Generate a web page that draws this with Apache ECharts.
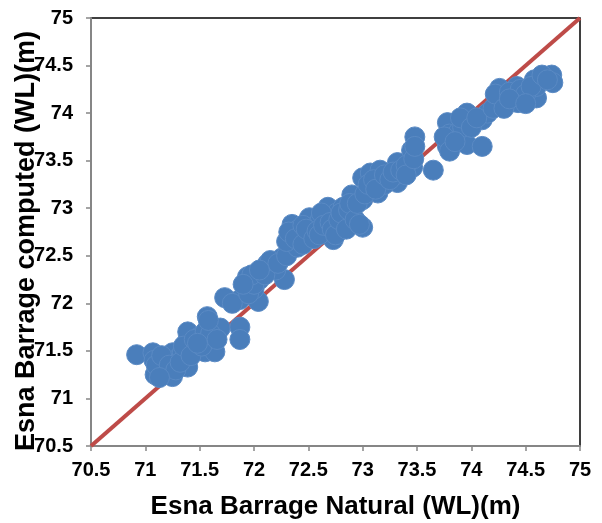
<!DOCTYPE html>
<html>
<head>
<meta charset="utf-8">
<script src="https://cdn.jsdelivr.net/npm/echarts@6/dist/echarts.min.js"></script>
<style>html,body{margin:0;padding:0;background:#fff}#c{width:602px;height:523px}</style>
</head>
<body>
<div id="c"></div>
<script>
// Natural (x) and computed (y) water levels
const naturalWL = [
 70.92,71.07,71.08,71.09,71.12,71.16,71.20,71.25,71.25,71.30,71.34,71.38,71.39,71.39,71.44,71.48,71.50,71.55,71.57,71.58,71.64,71.62,71.69,71.73,71.87,71.87,
 71.10,71.15,71.22,71.28,71.32,71.35,71.42,71.45,71.52,71.55,71.60,71.66,71.58,71.48,71.13,
 71.87,71.94,72.04,72.05,72.00,72.12,72.17,72.28,72.26,72.33,72.20,
 71.80,71.95,72.00,71.98,72.10,72.15,72.22,72.30,72.05,71.90,
 72.35,72.35,72.40,72.40,72.42,72.49,72.51,72.51,72.55,72.61,72.67,72.67,72.67,72.68,72.73,72.76,72.80,72.82,72.84,72.90,72.90,73.00,73.00,73.00,73.07,73.14,73.16,73.32,73.32,73.46,73.45,73.48,73.65,73.30,73.20,
 72.30,72.32,72.38,72.45,72.45,72.48,72.55,72.58,72.60,72.62,72.64,72.70,72.72,72.75,72.78,72.80,72.85,72.87,72.88,72.93,72.95,72.97,73.02,73.05,73.10,73.12,73.20,73.25,73.28,73.35,73.40,73.40,73.47,73.48,
 73.78,73.78,73.80,73.88,73.96,73.96,73.92,74.10,74.10,74.15,74.26,74.26,74.30,74.42,74.43,74.40,74.58,74.60,74.60,74.74,74.75,
 73.75,73.80,73.85,73.90,74.00,74.05,74.20,74.22,74.30,74.35,74.45,74.50,74.55,74.65,74.70,74.35,74.50
];
const computedWL = [
 71.46,71.48,71.40,71.25,71.32,71.28,71.40,71.23,71.48,71.42,71.48,71.59,71.33,71.70,71.55,71.51,71.65,71.49,71.86,71.60,71.49,71.75,71.74,72.06,71.75,71.62,
 71.35,71.45,71.35,71.30,71.38,71.55,71.45,71.62,71.55,71.70,71.68,71.62,71.82,71.58,71.22,
 72.04,72.28,72.02,72.25,72.15,72.41,72.37,72.25,72.48,72.56,72.35,
 72.00,72.10,72.20,72.30,72.30,72.45,72.42,72.50,72.35,72.20,
 72.83,72.70,72.77,72.59,72.75,72.70,72.90,72.70,72.80,72.88,72.77,72.91,72.74,73.01,72.67,72.95,72.80,73.01,72.86,73.14,72.95,73.09,72.80,73.32,73.37,73.16,73.40,73.27,73.48,73.43,73.61,73.75,73.40,73.35,73.25,
 72.65,72.75,72.68,72.62,72.82,72.78,72.68,72.76,72.72,72.95,72.82,72.85,72.78,72.72,72.88,72.95,72.78,72.98,73.05,72.88,73.05,72.83,73.15,73.25,73.30,73.20,73.35,73.30,73.38,73.40,73.45,73.35,73.52,73.65,
 73.90,73.65,73.78,73.80,74.00,73.67,73.85,73.93,73.65,74.00,74.26,74.11,74.18,74.28,74.11,74.20,74.35,74.16,74.28,74.40,74.32,
 73.75,73.60,73.70,73.95,73.85,73.95,74.05,74.20,74.05,74.22,74.25,74.20,74.28,74.40,74.35,74.15,74.10
];
const lineX = [70.5, 75];
const lineY = [70.5, 75];
const ticks = { min: 70.5, max: 75, step: 0.5 };

const scatterData = naturalWL.map((x, i) => [x, computedWL[i]]);
const lineData = lineX.map((x, i) => [x, lineY[i]]);

const chart = echarts.init(document.getElementById('c'), null, { renderer: 'canvas' });
const labelStyle = { color: '#000', fontFamily: 'Liberation Sans, Arial, sans-serif', fontWeight: 'bold', fontSize: 20 };
chart.setOption({
  animation: false,
  backgroundColor: '#fff',
  grid: { left: 91, right: 22, top: 18, bottom: 77, containLabel: false, outerBoundsMode: 'none',
          show: true, borderColor: '#000', borderWidth: 1.5, backgroundColor: 'transparent' },
  xAxis: {
    type: 'value', min: ticks.min, max: ticks.max, interval: ticks.step,
    name: 'Esna Barrage Natural (WL)(m)', nameLocation: 'middle', nameGap: 48, nameMoveOverlap: false,
    nameTextStyle: { color: '#000', fontFamily: 'Liberation Sans, Arial, sans-serif', fontWeight: 'bold', fontSize: 26 },
    axisLine: { show: true, lineStyle: { color: '#868686', width: 2 } },
    axisTick: { show: true, length: 5, lineStyle: { color: '#868686', width: 1.5 } },
    axisLabel: Object.assign({ margin: 14 }, labelStyle),
    splitLine: { show: false }
  },
  yAxis: {
    type: 'value', min: ticks.min, max: ticks.max, interval: ticks.step,
    name: 'Esna Barrage computed (WL)(m)', nameLocation: 'middle', nameGap: 51, nameMoveOverlap: false,
    nameTextStyle: { color: '#000', fontFamily: 'Liberation Sans, Arial, sans-serif', fontWeight: 'bold', fontSize: 27, padding: [0, 18, 0, 0] },
    axisLine: { show: true, lineStyle: { color: '#868686', width: 2 } },
    axisTick: { show: true, length: 5, lineStyle: { color: '#868686', width: 1.5 } },
    axisLabel: Object.assign({ margin: 18 }, labelStyle),
    splitLine: { show: false }
  },
  series: [
    { type: 'line', data: lineData, symbol: 'none', z: 1, lineStyle: { color: '#be4b48', width: 4 } },
    { type: 'scatter', data: scatterData, z: 3, symbol: 'circle', symbolSize: 20,
      itemStyle: { color: '#4a7ebb', borderColor: '#5a8ac4', borderWidth: 1, opacity: 1 } }
  ]
});
</script>
</body>
</html>
